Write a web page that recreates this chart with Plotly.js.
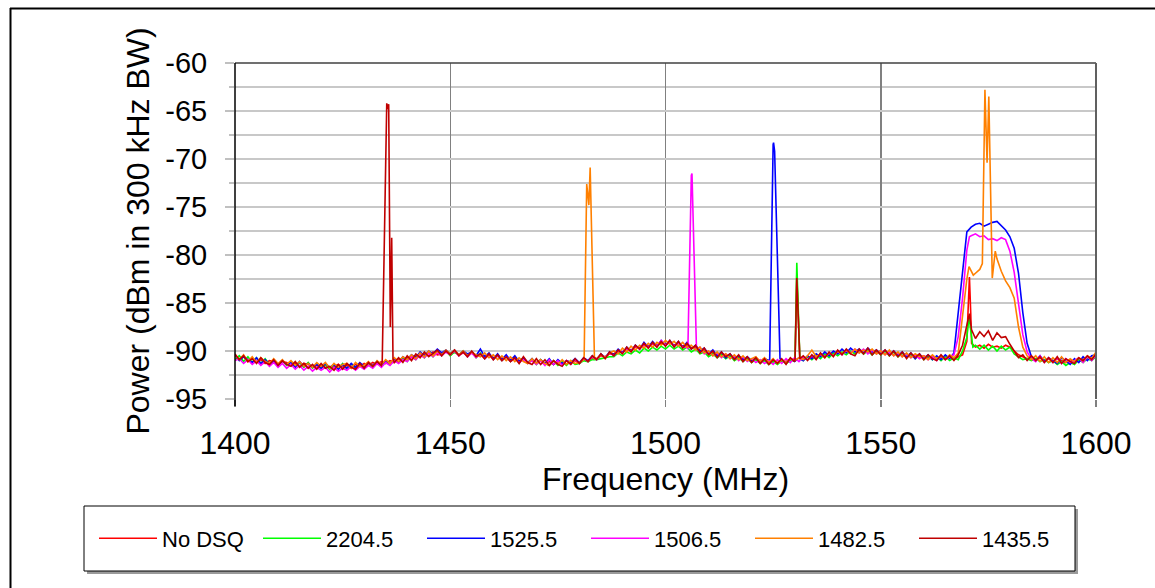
<!DOCTYPE html>
<html>
<head>
<meta charset="utf-8">
<script src="https://cdn.plot.ly/plotly-3.0.1.min.js"></script>
<style>html,body{margin:0;padding:0;background:#fff;}#chart{width:1155px;height:588px;}</style>
</head>
<body>
<div id="chart"></div>
<script>
// ---------------- DATA ----------------
const seriesNames = ['No DSQ', '2204.5', '1525.5', '1506.5', '1482.5', '1435.5'];
const xTickVals = [1400, 1450, 1500, 1550, 1600];
const yTickVals = [-60, -65, -70, -75, -80, -85, -90, -95];
const yTickText = ['-60', '-65', '-70', '-75', '-80', '-85', '-90', '-95'];

// Frequency grid (MHz), 1 MHz steps
const freq = [
1400,1401,1402,1403,1404,1405,1406,1407,1408,1409,
1410,1411,1412,1413,1414,1415,1416,1417,1418,1419,
1420,1421,1422,1423,1424,1425,1426,1427,1428,1429,
1430,1431,1432,1433,1434,1435,1436,1437,1438,1439,
1440,1441,1442,1443,1444,1445,1446,1447,1448,1449,
1450,1451,1452,1453,1454,1455,1456,1457,1458,1459,
1460,1461,1462,1463,1464,1465,1466,1467,1468,1469,
1470,1471,1472,1473,1474,1475,1476,1477,1478,1479,
1480,1481,1482,1483,1484,1485,1486,1487,1488,1489,
1490,1491,1492,1493,1494,1495,1496,1497,1498,1499,
1500,1501,1502,1503,1504,1505,1506,1507,1508,1509,
1510,1511,1512,1513,1514,1515,1516,1517,1518,1519,
1520,1521,1522,1523,1524,1525,1526,1527,1528,1529,
1530,1531,1532,1533,1534,1535,1536,1537,1538,1539,
1540,1541,1542,1543,1544,1545,1546,1547,1548,1549,
1550,1551,1552,1553,1554,1555,1556,1557,1558,1559,
1560,1561,1562,1563,1564,1565,1566,1567,1568,1569,
1570,1571,1572,1573,1574,1575,1576,1577,1578,1579,
1580,1581,1582,1583,1584,1585,1586,1587,1588,1589,
1590,1591,1592,1593,1594,1595,1596,1597,1598,1599,
1600];

// Power (dBm) on the grid, per series
const pNoDSQ = [
-90.5,-90.9,-90.6,-91.1,-90.8,-91.2,-90.9,-91.3,-91.0,-91.1,
-91.4,-91.1,-91.2,-91.5,-91.3,-91.6,-91.3,-91.4,-91.7,-91.5,
-91.7,-91.5,-91.8,-91.6,-91.4,-91.7,-91.5,-91.8,-91.4,-91.6,
-91.3,-91.5,-91.2,-91.4,-91.1,-91.3,-91.0,-91.2,-90.8,-91.0,
-90.7,-90.9,-90.5,-90.6,-90.3,-90.5,-90.1,-90.4,-90.3,-90.0,
-90.3,-90.1,-90.4,-90.2,-90.4,-90.2,-90.5,-90.3,-90.6,-90.4,
-90.7,-90.5,-90.8,-90.6,-90.9,-90.7,-91.0,-90.9,-91.2,-91.0,
-91.2,-91.0,-91.3,-91.1,-91.4,-91.1,-91.3,-91.0,-91.2,-91.0,
-91.3,-90.9,-91.1,-90.7,-90.8,-90.5,-90.6,-90.3,-90.3,-90.0,
-90.1,-89.8,-89.9,-89.6,-89.7,-89.4,-89.5,-89.3,-89.4,-89.2,
-89.3,-89.1,-89.4,-89.2,-89.5,-89.4,-89.7,-89.6,-90.0,-90.0,
-90.3,-90.2,-90.5,-90.3,-90.6,-90.5,-90.8,-90.6,-90.9,-90.7,
-91.0,-90.8,-91.1,-90.9,-91.2,-91.0,-91.2,-91.0,-91.1,-90.9,
-90.9,-88.2,-90.7,-90.9,-90.6,-90.7,-90.4,-90.5,-90.3,-90.4,
-90.1,-90.3,-90.0,-90.2,-89.9,-90.1,-89.9,-90.1,-90.0,-90.2,
-90.0,-90.3,-90.1,-90.4,-90.2,-90.5,-90.3,-90.6,-90.4,-90.7,
-90.5,-90.7,-90.5,-90.8,-90.6,-90.8,-90.6,-90.9,-90.6,-90.4,
-89.0,-87.6,-89.6,-89.4,-89.7,-89.3,-89.6,-89.5,-89.7,-89.4,
-89.6,-90.0,-90.4,-90.6,-90.8,-90.6,-90.9,-90.7,-91.0,-90.8,
-91.1,-90.8,-91.0,-91.2,-90.9,-91.1,-90.8,-90.9,-90.6,-90.8,
-90.5];
const pkFNoDSQ = [1530.1, 1530.5, 1531.2, 1570.6, 1570.9, 1571.1];
const pkPNoDSQ = [-90.8, -82.0, -90.7, -82.3, -86.0, -89.2];

const p2204 = [
-90.9,-90.5,-91.1,-90.6,-91.2,-90.7,-91.3,-90.8,-91.4,-90.9,
-91.5,-91.0,-91.5,-91.1,-91.6,-91.2,-91.7,-91.2,-91.8,-91.3,
-91.8,-91.4,-91.9,-91.4,-91.8,-91.3,-91.9,-91.4,-91.8,-91.3,
-91.7,-91.2,-91.7,-91.1,-91.6,-91.0,-91.4,-90.9,-91.2,-90.7,
-91.1,-90.5,-90.9,-90.3,-90.7,-90.1,-90.6,-90.0,-90.5,-90.0,
-90.5,-90.1,-90.4,-90.0,-90.6,-90.1,-90.7,-90.2,-90.8,-90.3,
-90.9,-90.5,-91.0,-90.6,-91.1,-90.7,-91.2,-90.8,-91.3,-90.9,
-91.4,-90.9,-91.3,-91.5,-91.0,-91.5,-91.1,-91.5,-91.0,-91.4,
-91.3,-91.0,-91.1,-90.9,-90.9,-90.8,-90.7,-90.6,-90.6,-90.2,
-90.5,-90.1,-90.3,-89.9,-90.2,-89.7,-90.0,-89.6,-89.9,-89.5,
-89.8,-89.4,-89.8,-89.5,-89.9,-89.6,-90.1,-89.8,-90.3,-90.1,
-90.6,-90.3,-90.7,-90.4,-90.8,-90.5,-91.0,-90.7,-91.1,-90.8,
-91.2,-90.9,-91.3,-91.0,-91.4,-91.1,-91.4,-91.0,-91.3,-91.0,
-91.0,-87.9,-91.0,-90.6,-90.9,-90.5,-90.8,-90.3,-90.7,-90.2,
-90.5,-90.1,-90.4,-90.0,-90.3,-89.9,-90.3,-90.0,-90.4,-90.0,
-90.4,-90.0,-90.5,-90.1,-90.6,-90.2,-90.7,-90.3,-90.8,-90.4,
-90.9,-90.5,-90.9,-90.6,-91.0,-90.6,-91.0,-90.7,-90.9,-90.0,
-88.6,-88.2,-89.4,-89.8,-89.4,-89.9,-89.5,-90.0,-89.5,-89.9,
-89.6,-90.3,-90.6,-90.9,-90.8,-91.0,-90.8,-91.1,-90.9,-91.2,
-91.0,-91.4,-91.1,-91.5,-91.2,-91.4,-90.9,-91.2,-90.8,-91.0,
-90.6];
const pkF2204 = [1530.1, 1530.5, 1531.2, 1570.5, 1571.4];
const pkP2204 = [-90.9, -80.8, -90.8, -86.4, -89.6];

const p1525 = [
-90.4,-91.0,-90.6,-90.9,-91.2,-90.7,-91.3,-90.9,-91.4,-91.0,
-91.5,-91.0,-91.4,-91.2,-91.7,-91.1,-91.6,-91.3,-91.7,-91.4,
-91.8,-91.3,-91.7,-91.4,-91.9,-91.4,-91.8,-91.3,-91.7,-91.2,
-91.6,-91.2,-91.5,-91.1,-91.4,-91.0,-91.3,-90.8,-91.2,-90.6,
-90.9,-90.4,-90.7,-90.1,-90.5,-90.0,-90.3,-89.8,-90.2,-89.9,
-90.3,-89.9,-90.4,-90.0,-90.3,-90.1,-90.5,-89.8,-90.6,-90.2,
-90.8,-90.3,-90.9,-90.4,-91.0,-90.5,-91.1,-90.7,-91.2,-90.8,
-91.3,-90.9,-91.3,-90.8,-91.4,-90.9,-91.3,-91.0,-91.2,-90.8,
-91.2,-90.7,-91.0,-90.5,-90.9,-90.3,-90.7,-90.1,-90.4,-89.8,
-90.2,-89.6,-90.0,-89.4,-89.8,-89.1,-89.6,-89.0,-89.5,-88.9,
-89.4,-88.9,-89.5,-89.0,-89.6,-89.1,-89.8,-89.4,-90.0,-89.7,
-90.3,-89.9,-90.5,-90.1,-90.7,-90.3,-90.8,-90.5,-90.9,-90.6,
-91.0,-90.7,-91.1,-90.8,-91.0,-68.5,-80.4,-90.9,-91.2,-90.8,
-91.1,-90.7,-91.0,-90.5,-90.8,-90.3,-90.6,-90.1,-90.5,-90.0,
-90.3,-89.8,-90.2,-89.7,-90.1,-89.8,-90.2,-89.7,-90.1,-89.9,
-90.3,-89.9,-90.4,-90.0,-90.5,-90.1,-90.6,-90.2,-90.8,-90.3,
-90.8,-90.4,-90.9,-90.5,-90.9,-90.4,-90.8,-90.2,-86.0,-82.0,
-77.6,-77.1,-76.8,-76.7,-77.0,-76.8,-76.6,-76.5,-76.9,-77.4,
-78.1,-79.3,-81.9,-86.0,-89.2,-90.6,-91.0,-90.5,-91.1,-90.7,
-91.0,-91.3,-90.7,-91.1,-91.4,-90.8,-91.2,-90.6,-91.0,-90.5,
-90.4];
const pkF1525 = [1524.2, 1524.5, 1525.1, 1525.35, 1526.6];
const pkP1525 = [-90.9, -80.5, -68.3, -69.2, -90.8];

const p1506 = [
-91.0,-90.8,-91.3,-90.9,-91.4,-91.0,-91.5,-91.1,-91.6,-91.2,
-91.7,-91.3,-91.8,-91.4,-91.9,-91.5,-92.0,-91.6,-92.1,-91.7,
-92.0,-91.7,-92.2,-91.7,-92.1,-91.8,-92.0,-91.6,-92.0,-91.6,
-91.9,-91.5,-91.8,-91.3,-91.7,-91.2,-91.5,-91.0,-91.3,-90.9,
-91.1,-90.6,-90.9,-90.4,-90.7,-90.2,-90.6,-90.2,-90.5,-90.1,
-90.4,-90.0,-90.5,-90.1,-90.6,-90.2,-90.7,-90.3,-90.8,-90.4,
-90.9,-90.5,-91.0,-90.6,-91.1,-90.8,-91.2,-90.9,-91.3,-91.0,
-91.4,-91.0,-91.5,-90.9,-91.4,-91.0,-91.5,-91.0,-91.4,-90.9,
-91.3,-90.8,-91.1,-90.6,-90.9,-90.4,-90.7,-90.2,-90.5,-90.0,
-90.2,-89.8,-90.0,-89.5,-89.8,-89.3,-89.6,-89.2,-89.5,-88.9,
-89.4,-89.1,-89.5,-89.2,-89.6,-89.6,-71.7,-86.4,-89.6,-90.3,
-90.0,-90.5,-90.2,-90.7,-90.3,-90.8,-90.5,-91.0,-90.6,-91.1,
-90.8,-91.2,-90.9,-91.3,-91.0,-91.4,-90.9,-91.3,-90.8,-91.2,
-90.7,-91.1,-90.6,-90.9,-90.5,-90.8,-90.3,-90.6,-90.2,-90.5,
-90.0,-90.4,-89.9,-90.2,-89.8,-90.2,-89.8,-90.3,-89.9,-90.3,
-90.0,-90.4,-90.1,-90.5,-90.2,-90.6,-90.3,-90.7,-90.4,-90.8,
-90.5,-90.9,-90.6,-91.0,-90.5,-90.9,-90.6,-90.4,-88.5,-84.5,
-79.5,-78.0,-77.8,-78.1,-78.0,-78.4,-78.3,-78.5,-78.2,-78.4,
-79.6,-81.8,-85.2,-88.3,-90.1,-90.8,-91.1,-90.5,-91.2,-90.7,
-91.2,-90.7,-91.3,-90.8,-91.2,-91.0,-90.7,-91.2,-90.6,-91.0,
-90.4];
const pkF1506 = [1505.2, 1505.9, 1506.15, 1507.2, 1570.6];
const pkP1506 = [-89.8, -71.8, -71.5, -89.9, -78.1];

const p1482 = [
-90.4,-90.9,-90.4,-91.1,-90.6,-91.2,-90.7,-91.1,-91.3,-90.8,
-91.3,-90.9,-91.4,-91.0,-91.5,-91.1,-91.6,-91.3,-91.7,-91.2,
-91.6,-91.2,-91.8,-91.3,-91.7,-91.4,-91.3,-91.8,-91.2,-91.6,
-91.5,-91.1,-91.6,-91.0,-91.4,-90.9,-91.3,-90.7,-91.1,-90.6,
-90.9,-90.4,-90.8,-90.2,-90.6,-90.0,-90.5,-90.0,-90.4,-89.9,
-90.3,-89.9,-90.4,-90.0,-90.5,-90.1,-90.4,-90.6,-90.2,-90.7,
-90.4,-90.9,-90.5,-91.0,-90.6,-91.1,-90.7,-91.1,-91.3,-90.8,
-91.3,-90.9,-91.3,-91.5,-91.0,-91.4,-90.9,-91.4,-91.0,-91.3,
-91.2,-90.9,-73.9,-80.9,-90.8,-90.4,-90.7,-90.2,-90.0,-90.3,
-89.7,-90.1,-89.5,-89.9,-89.4,-89.7,-89.2,-89.6,-89.1,-89.4,
-88.9,-89.3,-89.0,-89.5,-89.1,-89.6,-89.4,-89.9,-89.6,-90.2,
-90.0,-90.5,-90.1,-90.6,-90.3,-90.8,-90.4,-90.9,-90.5,-91.0,
-90.8,-90.6,-91.1,-90.7,-91.2,-90.8,-91.3,-90.9,-91.2,-90.8,
-91.0,-90.7,-90.9,-90.5,-89.9,-90.6,-90.3,-90.7,-90.2,-90.5,
-90.0,-90.3,-89.9,-90.3,-89.8,-90.2,-89.9,-90.1,-89.8,-90.3,
-90.0,-90.4,-89.9,-90.5,-90.1,-90.6,-90.2,-90.7,-90.3,-90.6,
-90.5,-90.9,-90.4,-90.8,-90.5,-90.9,-90.4,-90.7,-90.2,-86.5,
-82.5,-81.7,-81.9,-81.5,-68.8,-65.2,-82.0,-80.4,-81.7,-82.7,
-83.4,-84.5,-87.5,-89.6,-90.5,-90.9,-90.5,-91.1,-90.6,-91.2,
-90.7,-91.2,-90.6,-91.2,-90.8,-91.1,-90.7,-91.0,-90.5,-90.8,
-90.1];
const pkF1482 = [1481.1, 1481.7, 1482.2, 1482.5, 1483.5, 1569.8, 1570.5, 1571.5, 1573.6, 1574.2, 1574.7, 1575.1, 1575.9, 1576.6];
const pkP1482 = [-90.7, -72.6, -74.8, -70.9, -90.8, -83.0, -81.2, -82.1, -80.9, -62.8, -70.4, -63.5, -82.4, -79.6];

const p1435 = [
-90.3,-90.9,-90.5,-91.1,-90.8,-91.3,-90.7,-91.2,-91.4,-90.9,
-91.5,-91.0,-91.4,-91.6,-91.1,-91.7,-91.3,-91.8,-91.4,-91.9,
-91.3,-91.8,-91.6,-92.0,-91.4,-91.9,-91.3,-91.7,-91.9,-91.3,
-91.8,-91.2,-91.6,-91.1,-91.5,-70.6,-82.6,-91.2,-90.7,-91.2,
-90.5,-91.0,-90.3,-90.7,-90.1,-90.6,-90.2,-89.9,-90.5,-90.0,
-90.4,-89.9,-90.5,-90.1,-90.6,-90.0,-90.6,-90.3,-90.8,-90.3,
-90.9,-90.4,-91.0,-90.6,-91.1,-90.7,-91.3,-90.6,-91.2,-91.4,
-90.8,-91.4,-90.9,-91.5,-91.0,-91.4,-91.6,-91.0,-91.4,-90.8,
-91.3,-90.7,-91.1,-90.5,-90.9,-90.3,-90.8,-90.1,-90.5,-89.9,
-90.3,-89.6,-90.1,-89.4,-89.8,-89.2,-89.7,-89.1,-89.6,-89.0,
-89.5,-88.9,-89.6,-89.0,-89.7,-89.2,-89.8,-89.4,-90.2,-89.7,
-90.4,-90.0,-90.7,-90.1,-90.6,-90.3,-90.9,-90.4,-91.1,-90.6,
-91.2,-90.7,-91.3,-90.8,-91.4,-90.9,-91.3,-90.8,-91.4,-90.7,
-91.1,-88.4,-90.5,-91.0,-90.4,-90.9,-90.2,-90.7,-90.1,-90.6,
-89.9,-90.4,-89.8,-90.3,-90.5,-89.8,-90.3,-89.7,-90.4,-89.9,
-90.4,-89.9,-90.5,-90.0,-90.6,-90.1,-90.8,-90.2,-90.7,-90.3,
-90.9,-90.4,-90.8,-91.0,-90.4,-90.9,-90.5,-91.0,-90.4,-89.4,
-87.3,-87.5,-88.7,-88.0,-88.5,-87.9,-88.9,-88.1,-88.6,-88.5,
-89.3,-90.0,-90.7,-90.4,-91.0,-90.5,-91.0,-90.6,-91.2,-90.7,
-91.2,-90.6,-91.3,-90.8,-91.1,-91.3,-90.7,-91.0,-90.5,-90.9,
-90.3];
const pkF1435 = [1434.2, 1435.25, 1435.45, 1435.7, 1436.08, 1436.4, 1436.7, 1530.1, 1530.5, 1531.2, 1570.6, 1571.1];
const pkP1435 = [-91.1, -64.2, -64.8, -64.3, -87.5, -78.2, -90.8, -90.8, -82.4, -90.8, -86.1, -87.8];

// ---------------- BUILD ----------------
const seriesColors = ['#ff0000', '#00ff00', '#0000ff', '#ff00ff', '#ff8000', '#c00000'];
const gridVals = [pNoDSQ, p2204, p1525, p1506, p1482, p1435];
const peakF = [pkFNoDSQ, pkF2204, pkF1525, pkF1506, pkF1482, pkF1435];
const peakP = [pkPNoDSQ, pkP2204, pkP1525, pkP1506, pkP1482, pkP1435];

function merge(vals, ef, ep) {
  const pts = freq.map((f, i) => [f, vals[i]]);
  ef.forEach((f, i) => pts.push([f, ep[i]]));
  pts.sort((a, b) => a[0] - b[0]);
  return {x: pts.map(p => p[0]), y: pts.map(p => p[1])};
}

const traces = seriesNames.map((name, k) => {
  const m = merge(gridVals[k], peakF[k], peakP[k]);
  return {x: m.x, y: m.y, name: name, type: 'scatter', mode: 'lines',
          line: {color: seriesColors[k], width: 1.6}, hoverinfo: 'skip'};
});

// plot-area geometry (px) for placing decorations
const W = 1155, H = 588, L = 235, R = 1096, T = 63, B = 399;
const px = v => (v - L) / (R - L);
const py = v => (B - v) / (B - T);

const FONT = '"Liberation Sans", Arial, Helvetica, sans-serif';

const layout = {
  width: W, height: H,
  margin: {l: L, r: W - R, t: T, b: H - B, pad: 0},
  paper_bgcolor: '#ffffff', plot_bgcolor: '#ffffff',
  font: {family: FONT, color: '#000000'},
  showlegend: true,
  xaxis: {
    range: [1400, 1600], tickmode: 'array', tickvals: xTickVals,
    ticks: 'outside', ticklen: 7, tickwidth: 1.5, tickcolor: '#808080',
    showgrid: true, gridcolor: '#808080', gridwidth: 1.5,
    zeroline: false, showline: false,
    tickfont: {size: 32, family: FONT}, ticklabelstandoff: 9,
    title: {text: 'Frequency (MHz)', font: {size: 32, family: FONT}, standoff: 6}
  },
  yaxis: {
    range: [-95, -60], tickmode: 'array', tickvals: yTickVals, ticktext: yTickText,
    ticks: 'outside', ticklen: 9, tickwidth: 2, tickcolor: '#c0c0c0',
    showgrid: true, gridcolor: '#c8c8c8', gridwidth: 2,
    minor: {dtick: 2.5, tick0: -60, ticks: 'outside', ticklen: 5, tickwidth: 2,
            tickcolor: '#c0c0c0', showgrid: true, gridcolor: '#c8c8c8', gridwidth: 2},
    zeroline: false, showline: false,
    tickfont: {size: 29, family: FONT}, ticklabelstandoff: 12,
    title: {text: 'Power (dBm in 300 kHz BW)', font: {size: 32, family: FONT}, standoff: 6}
  },
  legend: {
    orientation: 'h', x: px(94), y: py(538.5), xanchor: 'left', yanchor: 'middle',
    font: {size: 22, family: FONT, color: '#000000'},
    itemwidth: 58, entrywidth: 91, entrywidthmode: 'pixels',
    bgcolor: 'rgba(0,0,0,0)', borderwidth: 0
  },
  shapes: [
    // outer chart frame (left and top edges)
    {type: 'line', xref: 'paper', yref: 'paper', x0: px(10.5), x1: px(10.5), y0: py(8), y1: py(600),
     line: {color: '#000000', width: 2}},
    {type: 'line', xref: 'paper', yref: 'paper', x0: px(10), x1: px(1160), y0: py(8.5), y1: py(8.5),
     line: {color: '#000000', width: 2}},
    // legend shadow and box
    {type: 'rect', xref: 'paper', yref: 'paper', layer: 'below', x0: px(87), x1: px(1078), y0: py(509), y1: py(574),
     fillcolor: '#9a9a9a', line: {width: 0}},
    {type: 'rect', xref: 'paper', yref: 'paper', layer: 'below', x0: px(84), x1: px(1075), y0: py(506), y1: py(571),
     fillcolor: '#ffffff', line: {color: '#000000', width: 1}},
    // plot area border: top and right
    {type: 'line', xref: 'paper', yref: 'paper', x0: 0, x1: 1, y0: 1, y1: 1, line: {color: '#404040', width: 1.5}},
    {type: 'line', xref: 'paper', yref: 'paper', x0: 1, x1: 1, y0: 0, y1: 1, line: {color: '#606060', width: 2}},
    // value axis line (black, running past the bottom ticks)
    {type: 'line', xref: 'paper', yref: 'paper', x0: 0, x1: 0, y0: py(406), y1: 1, line: {color: '#000000', width: 1.5}}
  ]
};

Plotly.newPlot('chart', traces, layout, {displayModeBar: false, staticPlot: true});
</script>
</body>
</html>
